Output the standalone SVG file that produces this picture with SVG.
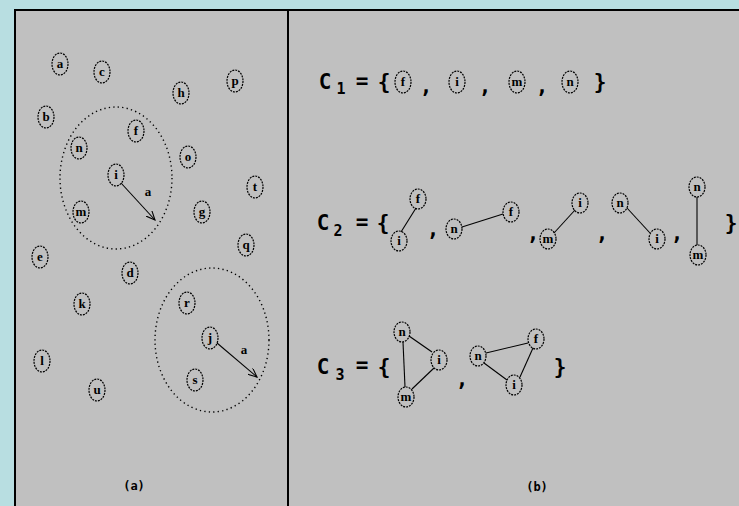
<svg xmlns="http://www.w3.org/2000/svg" width="739" height="506" viewBox="0 0 739 506">
<defs>
<style>
.nd ellipse{fill:none;stroke:#000;stroke-width:1.2;stroke-dasharray:2 1}
.nd text{font-family:"Liberation Serif",serif;font-weight:bold;font-size:13px;text-anchor:middle;fill:#000}
.big{fill:none;stroke:#000;stroke-width:1.4;stroke-dasharray:1.3 3.2}
.edge{stroke:#000;stroke-width:1.1;fill:none}
.eq{font-family:"DejaVu Sans Mono",monospace;font-weight:bold;font-size:21px;fill:#000;text-anchor:middle}
.sub{font-family:"DejaVu Sans Mono",monospace;font-weight:bold;font-size:15px;fill:#000;text-anchor:middle}
.cap{font-family:"DejaVu Sans Mono",monospace;font-weight:bold;font-size:12px;fill:#000;text-anchor:middle}
.lbl{font-family:"Liberation Serif",serif;font-weight:bold;font-size:13px;fill:#000;text-anchor:middle}
</style>
<marker id="ah" markerWidth="10" markerHeight="8" refX="9" refY="4" orient="auto" markerUnits="userSpaceOnUse">
<path d="M0,0 L9,4 L0,8" fill="none" stroke="#000" stroke-width="1.1"/>
</marker>
</defs>
<rect x="0" y="0" width="739" height="506" fill="#B8DEE1"/>
<rect x="14" y="9" width="726" height="498" fill="#C0C0C0"/>
<line x1="14" y1="10" x2="739" y2="10" stroke="#000" stroke-width="2"/>
<line x1="15" y1="9" x2="15" y2="506" stroke="#000" stroke-width="2"/>
<line x1="288" y1="10" x2="288" y2="506" stroke="#000" stroke-width="2"/>

<g id="regions">
<ellipse class="big" cx="116" cy="178" rx="56" ry="71"/>
<ellipse class="big" cx="212" cy="340" rx="57" ry="72"/>
</g>

<g id="connectors">
<line class="edge" x1="121" y1="183" x2="155" y2="220" marker-end="url(#ah)"/>
<line class="edge" x1="217" y1="343" x2="257" y2="377" marker-end="url(#ah)"/>
<line class="edge" x1="416" y1="208" x2="401" y2="232"/>
<line class="edge" x1="462" y1="227" x2="503" y2="214"/>
<line class="edge" x1="554" y1="233" x2="575" y2="210"/>
<line class="edge" x1="627" y1="208" x2="650" y2="233"/>
<line class="edge" x1="697" y1="197" x2="697" y2="245"/>
<line class="edge" x1="403" y1="342" x2="405" y2="387"/>
<line class="edge" x1="409" y1="336" x2="432" y2="352"/>
<line class="edge" x1="434" y1="368" x2="412" y2="389"/>
<line class="edge" x1="486" y1="353" x2="528" y2="343"/>
<line class="edge" x1="484" y1="363" x2="507" y2="380"/>
<line class="edge" x1="533" y1="348" x2="520" y2="377"/>
</g>

<text class="lbl" x="148" y="196">a</text>
<text class="lbl" x="244" y="354">a</text>

<g id="node-a" class="nd"><ellipse cx="60" cy="64" rx="8" ry="11"/><text x="60" y="68">a</text></g>
<g id="node-c" class="nd"><ellipse cx="102" cy="72" rx="8" ry="11"/><text x="102" y="76">c</text></g>
<g id="node-h" class="nd"><ellipse cx="181" cy="93" rx="8" ry="11"/><text x="181" y="97">h</text></g>
<g id="node-p" class="nd"><ellipse cx="235" cy="81" rx="8" ry="11"/><text x="235" y="85">p</text></g>
<g id="node-b" class="nd"><ellipse cx="46" cy="117" rx="8" ry="11"/><text x="46" y="121">b</text></g>
<g id="node-f" class="nd"><ellipse cx="136" cy="131" rx="8" ry="11"/><text x="136" y="135">f</text></g>
<g id="node-n" class="nd"><ellipse cx="79" cy="148" rx="8" ry="11"/><text x="79" y="152">n</text></g>
<g id="node-o" class="nd"><ellipse cx="188" cy="157" rx="8" ry="11"/><text x="188" y="161">o</text></g>
<g id="node-i" class="nd"><ellipse cx="116" cy="175" rx="8" ry="11"/><text x="116" y="179">i</text></g>
<g id="node-t" class="nd"><ellipse cx="255" cy="187" rx="8" ry="11"/><text x="255" y="191">t</text></g>
<g id="node-m" class="nd"><ellipse cx="81" cy="212" rx="8" ry="11"/><text x="81" y="216">m</text></g>
<g id="node-g" class="nd"><ellipse cx="202" cy="212" rx="8" ry="11"/><text x="202" y="216">g</text></g>
<g id="node-q" class="nd"><ellipse cx="246" cy="245" rx="8" ry="11"/><text x="246" y="249">q</text></g>
<g id="node-e" class="nd"><ellipse cx="40" cy="257" rx="8" ry="11"/><text x="40" y="261">e</text></g>
<g id="node-d" class="nd"><ellipse cx="130" cy="273" rx="8" ry="11"/><text x="130" y="277">d</text></g>
<g id="node-k" class="nd"><ellipse cx="82" cy="304" rx="8" ry="11"/><text x="82" y="308">k</text></g>
<g id="node-r" class="nd"><ellipse cx="187" cy="303" rx="8" ry="11"/><text x="187" y="307">r</text></g>
<g id="node-j" class="nd"><ellipse cx="210" cy="338" rx="8" ry="11"/><text x="210" y="342">j</text></g>
<g id="node-s" class="nd"><ellipse cx="195" cy="380" rx="8" ry="11"/><text x="195" y="384">s</text></g>
<g id="node-l" class="nd"><ellipse cx="42" cy="361" rx="8" ry="11"/><text x="42" y="365">l</text></g>
<g id="node-u" class="nd"><ellipse cx="97" cy="390" rx="8" ry="11"/><text x="97" y="394">u</text></g>

<text class="cap" x="134" y="490">(a)</text>
<text class="cap" x="537" y="491">(b)</text>

<g id="row-c1">
<text class="eq" x="325" y="89">C</text><text class="sub" x="341" y="94">1</text>
<text class="eq" x="362" y="88">=</text><text class="eq" x="384" y="89">{</text>
<text class="eq" x="426" y="93">,</text><text class="eq" x="485" y="93">,</text><text class="eq" x="542" y="93">,</text>
<text class="eq" x="600" y="89">}</text>
</g>
<g id="c1-f" class="nd"><ellipse cx="403" cy="82" rx="8" ry="11"/><text x="403" y="86">f</text></g>
<g id="c1-i" class="nd"><ellipse cx="457" cy="82" rx="8" ry="11"/><text x="457" y="86">i</text></g>
<g id="c1-m" class="nd"><ellipse cx="517" cy="82" rx="8" ry="11"/><text x="517" y="86">m</text></g>
<g id="c1-n" class="nd"><ellipse cx="570" cy="82" rx="8" ry="11"/><text x="570" y="86">n</text></g>

<g id="row-c2">
<text class="eq" x="323" y="230">C</text><text class="sub" x="338" y="236">2</text>
<text class="eq" x="362" y="229">=</text><text class="eq" x="383" y="230">{</text>
<text class="eq" x="433" y="236">,</text><text class="eq" x="533" y="240">,</text><text class="eq" x="602" y="240">,</text><text class="eq" x="677" y="240">,</text>
<text class="eq" x="731" y="230">}</text>
</g>
<g id="c2-f1" class="nd"><ellipse cx="418" cy="199" rx="8" ry="10"/><text x="418" y="203">f</text></g>
<g id="c2-i1" class="nd"><ellipse cx="399" cy="241" rx="8" ry="10"/><text x="399" y="245">i</text></g>
<g id="c2-n2" class="nd"><ellipse cx="454" cy="229" rx="8" ry="10"/><text x="454" y="233">n</text></g>
<g id="c2-f2" class="nd"><ellipse cx="511" cy="212" rx="8" ry="10"/><text x="511" y="216">f</text></g>
<g id="c2-m3" class="nd"><ellipse cx="548" cy="239" rx="8" ry="10"/><text x="548" y="243">m</text></g>
<g id="c2-i3" class="nd"><ellipse cx="580" cy="203" rx="8" ry="10"/><text x="580" y="207">i</text></g>
<g id="c2-n4" class="nd"><ellipse cx="620" cy="203" rx="8" ry="10"/><text x="620" y="207">n</text></g>
<g id="c2-i4" class="nd"><ellipse cx="657" cy="239" rx="8" ry="10"/><text x="657" y="243">i</text></g>
<g id="c2-n5" class="nd"><ellipse cx="697" cy="187" rx="8" ry="10"/><text x="697" y="191">n</text></g>
<g id="c2-m5" class="nd"><ellipse cx="698" cy="255" rx="8" ry="10"/><text x="698" y="259">m</text></g>

<g id="row-c3">
<text class="eq" x="323" y="374">C</text><text class="sub" x="340" y="380">3</text>
<text class="eq" x="362" y="372">=</text><text class="eq" x="384" y="374">{</text>
<text class="eq" x="462" y="386">,</text>
<text class="eq" x="560" y="374">}</text>
</g>
<g id="c3-n1" class="nd"><ellipse cx="402" cy="332" rx="8" ry="10"/><text x="402" y="336">n</text></g>
<g id="c3-i1" class="nd"><ellipse cx="439" cy="360" rx="8" ry="10"/><text x="439" y="364">i</text></g>
<g id="c3-m1" class="nd"><ellipse cx="406" cy="397" rx="8" ry="10"/><text x="406" y="401">m</text></g>
<g id="c3-n2" class="nd"><ellipse cx="478" cy="356" rx="8" ry="10"/><text x="478" y="360">n</text></g>
<g id="c3-f2" class="nd"><ellipse cx="536" cy="339" rx="8" ry="10"/><text x="536" y="343">f</text></g>
<g id="c3-i2" class="nd"><ellipse cx="514" cy="385" rx="8" ry="10"/><text x="514" y="389">i</text></g>
</svg>
